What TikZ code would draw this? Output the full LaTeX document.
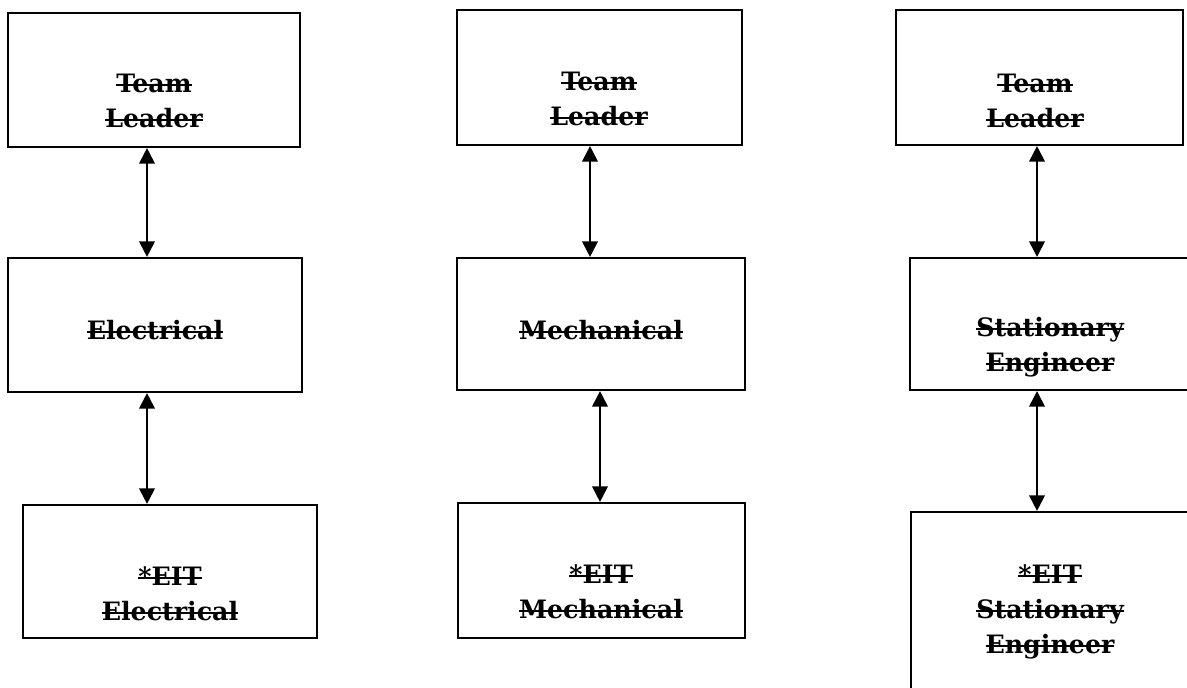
\documentclass[tikz,border=0pt]{standalone}
\usepackage{fontspec}
\setmainfont{DejaVu Serif}
\usetikzlibrary{arrows.meta}
\newcommand{\strk}[1]{\setbox0\hbox{#1}\rlap{\rule[0.5ex]{\wd0}{1.4pt}}\box0}
\tikzset{
 unit/.style={draw,line width=1.5pt,inner sep=0pt},
 lbl/.style={align=center,inner sep=0pt,font=\bfseries\fontsize{18}{25}\selectfont},
 link/.style={line width=1.4pt,{Triangle[width=11pt,length=11pt]}-{Triangle[width=11pt,length=11pt]}}
}
\begin{document}
\begin{tikzpicture}[x=0.025cm,y=-0.025cm]
 \clip (0,0) rectangle (1187,688);
 % electrical
 \node[unit,minimum width=7.3cm,minimum height=3.35cm] (tl1) at (154,80) {};
 \node[unit,minimum width=7.35cm,minimum height=3.35cm] (e1) at (155,325) {};
 \node[unit,minimum width=7.35cm,minimum height=3.325cm] (eit1) at (170,571.5) {};
 \node[lbl] (tl1l) at (154,101) {\strk{Team}\\\strk{Leader}};
 \node[lbl] (e1l) at (155,330) {\strk{Electrical}};
 \node[lbl] (eit1l) at (170,594) {\strk{*EIT}\\\strk{Electrical}};
 \draw[link] (tl1.south -| 147,0) -- (e1.north -| 147,0);
 \draw[link] (e1.south -| 147,0) -- (eit1.north -| 147,0);
 % mechanical
 \node[unit,minimum width=7.125cm,minimum height=3.375cm] (tl2) at (599.5,77.5) {};
 \node[unit,minimum width=7.2cm,minimum height=3.3cm] (m2) at (601,324) {};
 \node[unit,minimum width=7.175cm,minimum height=3.375cm] (eit2) at (601.5,570.5) {};
 \node[lbl] (tl2l) at (599,99) {\strk{Team}\\\strk{Leader}};
 \node[lbl] (m2l) at (601,330) {\strk{Mechanical}};
 \node[lbl] (eit2l) at (601,592) {\strk{*EIT}\\\strk{Mechanical}};
 \draw[link] (tl2.south -| 590,0) -- (m2.north -| 590,0);
 \draw[link] (m2.south -| 600,0) -- (eit2.north -| 600,0);
 % stationary
 \node[unit,minimum width=7.175cm,minimum height=3.375cm] (tl3) at (1039.5,77.5) {};
 \node[unit,minimum width=7.25cm,minimum height=3.3cm] (se3) at (1055,324) {};
 \node[unit,minimum width=7.225cm,minimum height=4.7cm] (eit3) at (1055.5,606) {};
 \node[lbl] (tl3l) at (1035,101) {\strk{Team}\\\strk{Leader}};
 \node[lbl] (se3l) at (1050,347) {\strk{Stationary}\\\strk{Engineer}};
 \node[lbl] (eit3l) at (1050,612) {\strk{*EIT}\\\strk{Stationary}\\\strk{Engineer}};
 \draw[link] (tl3.south -| 1037,0) -- (se3.north -| 1037,0);
 \draw[link] (se3.south -| 1037,0) -- (eit3.north -| 1037,0);
\end{tikzpicture}
\end{document}
